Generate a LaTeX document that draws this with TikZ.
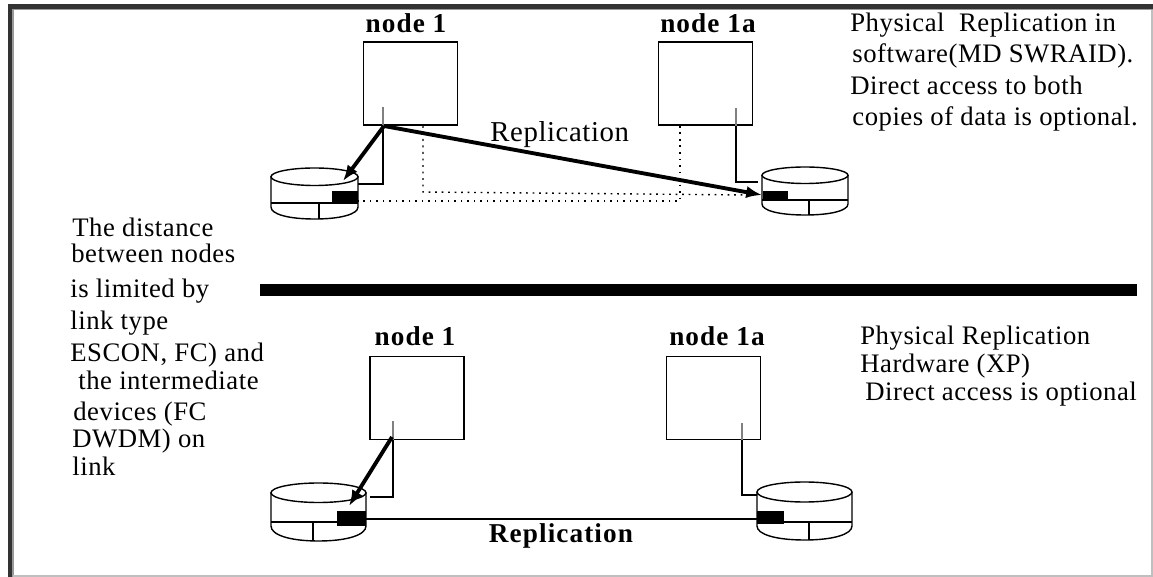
\documentclass[tikz,border=0pt]{standalone}
\usepackage{fontspec}
\setmainfont{Liberation Serif}
\newfontfamily\spacedfont[LetterSpace=2]{Liberation Serif}
\newfontfamily\boldfont[LetterSpace=4]{Liberation Serif}
\usetikzlibrary{arrows.meta, positioning}

\tikzset{
    hostbox/.style={draw, line width=0.8pt, minimum width=1.88cm, minimum height=1.66cm, inner sep=0pt},
    label/.style={inner sep=0pt, anchor=base west, font=\fontsize{16.4}{18}\spacedfont},
    sidetext/.style={inner sep=0pt, anchor=base west, font=\fontsize{15.2}{18}\spacedfont},
    boldlabel/.style={inner sep=0pt, anchor=base, font=\fontsize{15.5}{18}\boldfont\bfseries},
    wire/.style={line width=0.8pt},
    stub/.style={line width=0.6pt, black!50},
    thickarrow/.style={line width=2.2pt, -{Latex[length=9pt,width=7pt]}},
    dotline/.style={line width=0.8pt, dash pattern=on 1.1pt off 2.6pt}
}

% disk: left, right, top, middle line, bottom, stem
\newcommand{\drawdisk}[6]{
    \pgfmathsetmacro{\cx}{(#1+#2)/2}
    \pgfmathsetmacro{\rx}{(#2-#1)/2}
    \pgfmathsetmacro{\ry}{(#4-#3)/4}
    \pgfmathsetmacro{\ymid}{#3+\ry}
    \pgfmathsetmacro{\yend}{#4+4}
    \pgfmathsetmacro{\ybend}{\yend+0.6*(#5-\yend)}
    \pgfmathsetmacro{\xa}{\cx-0.6*\rx}
    \pgfmathsetmacro{\xb}{\cx+0.6*\rx}
    \draw[wire] (\cx,\ymid) ellipse ({\rx} and {\ry});
    \draw[wire] (#1,\ymid) -- (#1,\yend) .. controls (#1,\ybend) and (\xa,#5) .. (\cx,#5) .. controls (\xb,#5) and (#2,\ybend) .. (#2,\yend) -- (#2,\ymid);
    \draw[wire] (#1,#4) -- (#2,#4);
    \draw[wire] (#6,#4) -- (#6,#5);
}

\begin{document}
\begin{tikzpicture}[x=0.02cm, y=-0.02cm]
    \useasboundingbox (0,0) rectangle (1153,577);

    % frame
    \fill[black!40] (8,4) rectangle (1153,10.5);
    \fill[black!40] (8,4) rectangle (13.5,577);
    \fill[black!80] (8,4) rectangle (1153,9);
    \fill[black!80] (8,4) rectangle (12,577);
    \draw[black!25, line width=0.6pt] (13,576) -- (1152,576) -- (1152,10);

    % hosts
    \node[hostbox] (node1up) at (410.5,83.5) {};
    \node[hostbox] (node1aup) at (705.5,83.5) {};
    \node[hostbox] (node1down) at (417,398) {};
    \node[hostbox] (node1adown) at (713.5,398) {};

    % host labels
    \node[boldlabel] (name1up) at (406,33) {node 1};
    \node[boldlabel] (name1aup) at (708,33) {node 1a};
    \node[boldlabel] (name1down) at (415,346) {node 1};
    \node[boldlabel] (name1adown) at (717,346) {node 1a};

    % disks
    \drawdisk{271}{358}{168}{203}{219}{319}
    \drawdisk{762}{848}{167}{200}{215}{809}
    \drawdisk{271}{366}{483}{522}{541}{313}
    \drawdisk{757}{852}{482}{522}{540}{809}

    % black blocks
    \fill (332,191) rectangle (358,203);
    \fill (763,191) rectangle (788,201);
    \fill (337,511) rectangle (366,526);
    \fill (757,511) rectangle (784,524);

    % end points of the links
    \coordinate (in1up) at (383,107);
    \coordinate (in1aup) at (736,108);
    \coordinate (in1down) at (393,421);
    \coordinate (in1adown) at (742,423);
    \coordinate (disk1up) at (358,184);
    \coordinate (disk1aup) at (758,182);
    \coordinate (disk1down) at (370,497);
    \coordinate (disk1adown) at (757,495);
    \coordinate (start1up) at (384,126);
    \coordinate (start1down) at (392,437);
    \coordinate (tip1up) at (343,181);
    \coordinate (tip1aup) at (762,195);
    \coordinate (tip1down) at (349,506);
    \coordinate (blockdown) at (366,519);
    \coordinate (blockadown) at (757,519);
    \coordinate (dotA) at (423,126);
    \coordinate (dotB) at (423,192);
    \coordinate (dotC) at (680,126);
    \coordinate (dotD) at (680,201);
    \coordinate (dotE) at (358,201);
    \coordinate (dotF) at (748,195);

    % links
    \draw[stub] (in1up) -- (in1up |- node1up.south);
    \draw[stub] (in1aup) -- (in1aup |- node1aup.south);
    \draw[stub] (in1down) -- (in1down |- node1down.south);
    \draw[stub] (in1adown) -- (in1adown |- node1adown.south);
    \draw[wire] (in1up |- node1up.south) -- (disk1up -| in1up) -- (disk1up);
    \draw[wire] (in1aup |- node1aup.south) -- (disk1aup -| in1aup) -- (disk1aup);
    \draw[wire] (in1down |- node1down.south) -- (disk1down -| in1down) -- (disk1down);
    \draw[wire] (in1adown |- node1adown.south) -- (disk1adown -| in1adown) -- (disk1adown);
    \draw[thickarrow] (start1up) -- (tip1up);
    \draw[thickarrow] (start1up) -- (tip1aup);
    \draw[thickarrow] (start1down) -- (tip1down);
    \draw[wire] (blockdown) -- (blockadown);

    % dotted links
    \draw[dotline] (dotA) -- (dotB) -- (dotF);
    \draw[dotline] (dotC) -- (dotD) -- (dotE);

    % separator
    \fill (260,284) rectangle (1137,296);

    % link names
    \node[label] (replicup) at (490,142) {Replication};
    \node[boldlabel] (replicdown) at (561,542) {Replication};

    % texts
    \foreach \x/\y/\txt/\nm in {850/32/{Physical\ \ Replication in}/a, 852/63/{software(MD SWRAID).}/b,
        850/95/{Direct access to both}/c, 852/126/{copies of data is optional.}/d,
        860/345/{Physical Replication}/e, 860/373/{Hardware (XP)}/f, 865/400/{Direct access is optional}/g,
        72/237/{The distance}/h, 71/263/{between nodes}/i, 70/298/{is limited by}/j, 70/330/{link type}/k,
        70/362/{ESCON, FC) and}/l, 78/390/{the intermediate}/m, 73/420/{devices (FC}/n,
        72/448/{DWDM) on}/o, 72/476/{link}/p}
        \node[sidetext] (text\nm) at (\x,\y) {\txt};

\end{tikzpicture}
\end{document}
